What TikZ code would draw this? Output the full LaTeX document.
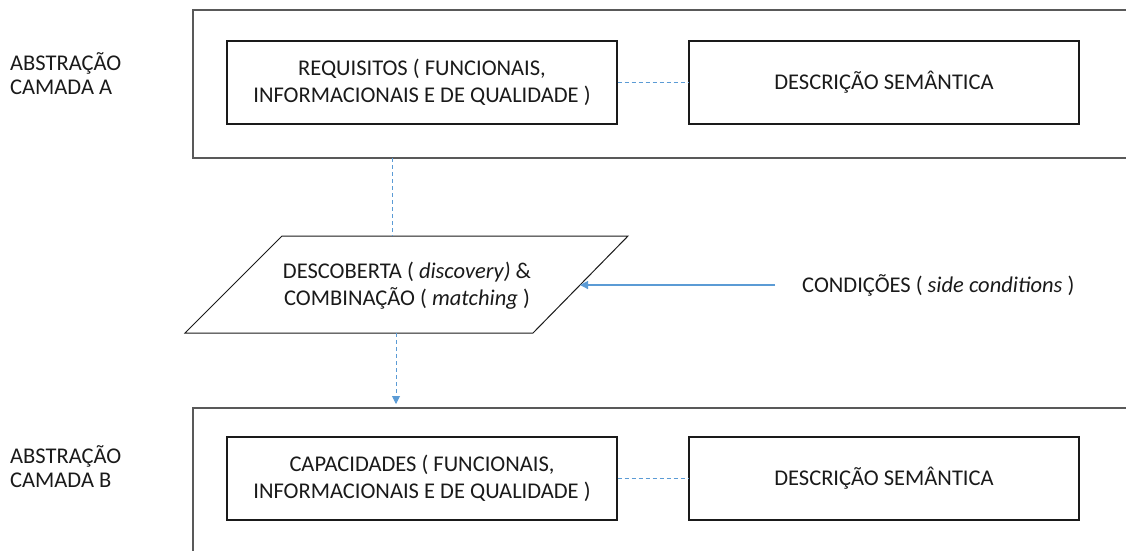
\documentclass[tikz,border=0pt]{standalone}
\usepackage{fontspec}
\setmainfont{Carlito}
\usetikzlibrary{arrows.meta}
\definecolor{linkblue}{HTML}{5B9BD5}
\definecolor{framegray}{HTML}{595959}
\definecolor{txt}{HTML}{1A1A1A}
\tikzset{
  frame/.style={draw=framegray, line width=1.4pt},
  inbox/.style={draw=txt, line width=1.3pt, minimum width=390pt, minimum height=83pt, inner sep=0pt, align=center, text=txt},
  lbl/.style={inner sep=0pt, align=center, text=txt},
  dashlink/.style={draw=linkblue, line width=0.9pt, dash pattern=on 4pt off 3pt},
  solidlink/.style={draw=linkblue, line width=1.2pt},
  tip/.style={-{Triangle[length=8pt,width=8pt]}}
}
\begin{document}
\begin{tikzpicture}[x=1pt,y=-1pt, font=\fontsize{22.5}{27}\selectfont]
\useasboundingbox (0,0) rectangle (1126,550);
% outer frames
\draw[frame] (1126,10) -- (193,10) -- (193,158) -- (1126,158);
\draw[frame] (1126,408) -- (193,408) -- (193,552);
% side labels
\node[lbl, align=left, anchor=west, font=\fontsize{22.5}{24}\selectfont] (absA) at (10,74) {ABSTRAÇÃO\\CAMADA A};
\node[lbl, align=left, anchor=west, font=\fontsize{22.5}{24}\selectfont] (absB) at (10,467) {ABSTRAÇÃO\\CAMADA B};
% top inner boxes
\node[inbox] (req) at (422,82.5) {REQUISITOS ( FUNCIONAIS,\\INFORMACIONAIS E DE QUALIDADE )};
\node[inbox] (semA) at (884,82.5) {DESCRIÇÃO SEMÂNTICA};
% bottom inner boxes
\node[inbox] (cap) at (422,478.5) {CAPACIDADES ( FUNCIONAIS,\\INFORMACIONAIS E DE QUALIDADE )};
\node[inbox] (semB) at (884,478.5) {DESCRIÇÃO SEMÂNTICA};
% parallelogram
\draw[draw=txt, line width=1pt] (185,333) -- (282,236) -- (628,236) -- (533,333) -- cycle;
\node[lbl] (disc) at (407,286) {DESCOBERTA ( \textit{discovery)} \&\\COMBINAÇÃO ( \textit{matching} )};
\coordinate (discTop) at (392,236);
\coordinate (discBot) at (396,333);
\coordinate (discR) at (580,285);
\coordinate (frameAbot) at (392,158);
\coordinate (frameBtop) at (396,404);
% conditions
\node[lbl, anchor=west] (cond) at (802,285) {CONDIÇÕES ( \textit{side conditions} )};
\coordinate (condL) at (775,285);
% connectors
\draw[dashlink] (req.east) -- (semA.west);
\draw[dashlink] (cap.east) -- (semB.west);
\draw[dashlink] (frameAbot) -- (discTop);
\draw[dashlink, tip, linkblue] (discBot) -- (frameBtop);
\draw[solidlink, tip] (condL) -- (discR);
\end{tikzpicture}
\end{document}
